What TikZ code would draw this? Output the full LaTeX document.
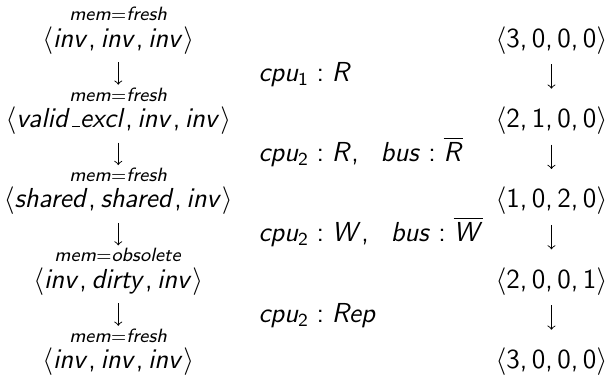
\documentclass[11pt,tikz,border=0pt]{standalone}
\usepackage{amsmath}
\usepackage{tikz}
\usetikzlibrary{positioning}
% sans serif math: upright digits and signs, slanted letters
\DeclareFontFamily{OT1}{sfm}{}
\DeclareFontShape{OT1}{sfm}{m}{sl}{<-8.5> s*[1.04] cmssi8 <8.5-9.5> s*[1.04] cmssi9
  <9.5-11> s*[1.04] cmssi10 <11-15.5> s*[1.04] cmssi12 <15.5-> s*[1.04] cmssi17}{}
\DeclareSymbolFont{operators}{OT1}{cmss}{m}{n}
\DeclareSymbolFont{sfletters}{OT1}{sfm}{m}{sl}
\newcommand{\sfletter}[1]{\DeclareMathSymbol{#1}{\mathalpha}{sfletters}{`#1}}
\sfletter a\sfletter b\sfletter c\sfletter d\sfletter e\sfletter f
\sfletter h\sfletter i\sfletter l\sfletter m\sfletter n\sfletter o
\sfletter p\sfletter r\sfletter s\sfletter t\sfletter u\sfletter v
\sfletter x\sfletter y\sfletter R\sfletter W
\DeclareMathSymbol{,}{\mathpunct}{operators}{`,}
\newcommand{\uscore}{\mbox{\kern.06em\rule{.3em}{.4pt}}}
\tikzstyle{every node}=[inner sep=0pt, anchor=base, font=\fontsize{11.5}{14}\selectfont]
\tikzstyle{state}=[]
\tikzstyle{op}=[anchor=base west]
\tikzstyle{trans}=[->, >=to, line width=0.4pt, shorten <=0.15cm]
\newcommand{\mem}[2]{\overset{mem=#1}{\langle #2\rangle}}

\begin{document}
\begin{tikzpicture}
  \useasboundingbox (0,0) rectangle (9.29,-5.86);
  % cache states with the memory status on top
  \node[state] (s1) at (1.81,-0.72) {$\mem{fresh}{inv, inv, inv}$};
  \node[state] (s2) at (1.81,-1.95) {$\mem{fresh}{valid\uscore excl, inv, inv}$};
  \node[state] (s3) at (1.81,-3.18) {$\mem{fresh}{shared, shared, inv}$};
  \node[state] (s4) at (1.81,-4.41) {$\mem{obsolete}{inv, dirty, inv}$};
  \node[state] (s5) at (1.81,-5.64) {$\mem{fresh}{inv, inv, inv}$};
  % counters
  \node[state] (c1) at (8.44,-0.72) {$\langle 3, 0, 0, 0\rangle$};
  \node[state] (c2) at (8.44,-1.95) {$\langle 2, 1, 0, 0\rangle$};
  \node[state] (c3) at (8.44,-3.18) {$\langle 1, 0, 2, 0\rangle$};
  \node[state] (c4) at (8.44,-4.41) {$\langle 2, 0, 0, 1\rangle$};
  \node[state] (c5) at (8.44,-5.64) {$\langle 3, 0, 0, 0\rangle$};
  % operations
  \node[op] (t1) at (3.95,-1.24) {$cpu_1 : R$};
  \node[op] (t2) at (3.95,-2.47) {$cpu_2 : R,\ \ bus : \overline{R}$};
  \node[op] (t3) at (3.95,-3.70) {$cpu_2 : W,\ \ bus : \overline{W}$};
  \node[op] (t4) at (3.95,-4.93) {$cpu_2 : Rep$};
  \draw[trans, shorten <=0.12cm, shorten >=0cm] (s1) -- (s2);
  \draw[trans, shorten <=0.12cm, shorten >=0cm] (s2) -- (s3);
  \draw[trans, shorten <=0.12cm, shorten >=0cm] (s3) -- (s4);
  \draw[trans, shorten <=0.12cm, shorten >=0cm] (s4) -- (s5);
  \draw[trans, shorten >=0.27cm] (c1) -- (c2);
  \draw[trans, shorten >=0.27cm] (c2) -- (c3);
  \draw[trans, shorten >=0.27cm] (c3) -- (c4);
  \draw[trans, shorten >=0.27cm] (c4) -- (c5);
\end{tikzpicture}
\end{document}
